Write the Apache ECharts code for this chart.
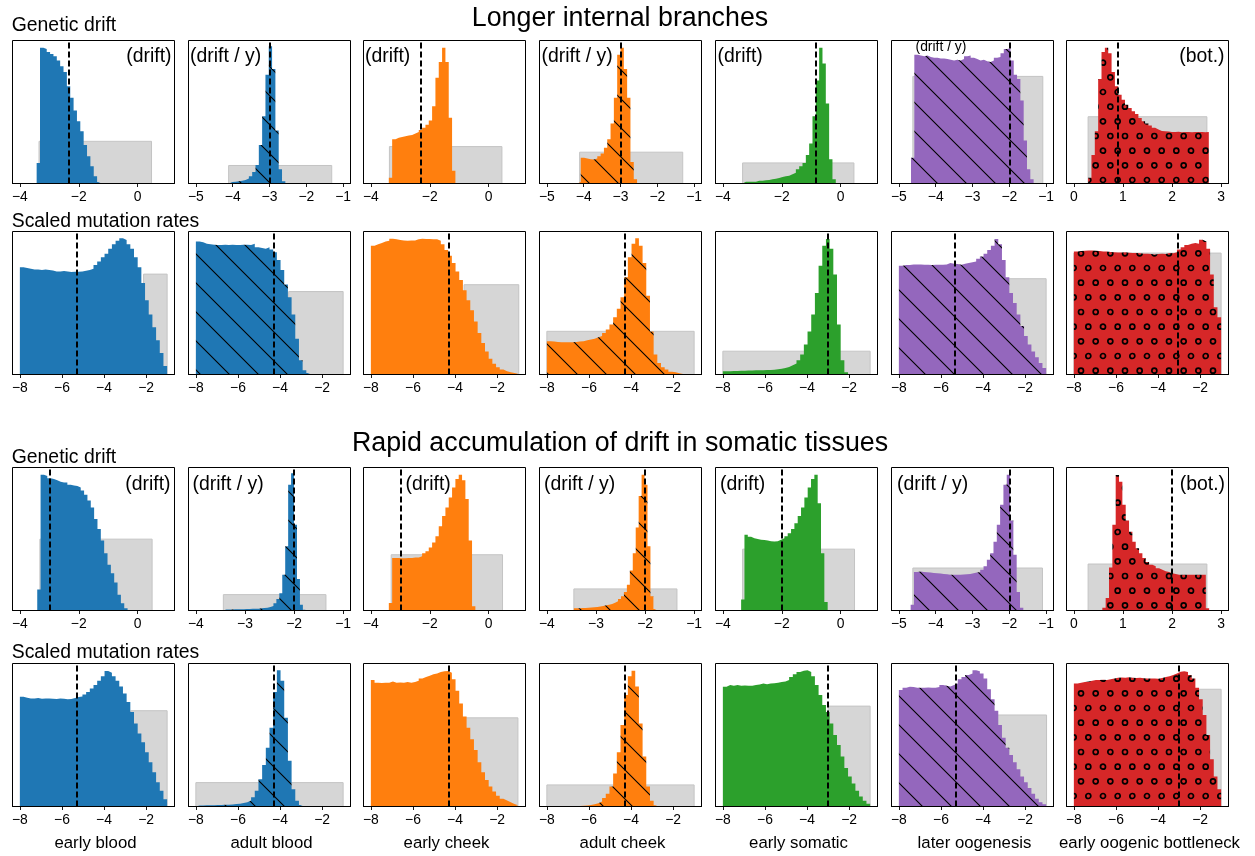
<!DOCTYPE html>
<html><head><meta charset="utf-8">
<script src="https://cdn.jsdelivr.net/npm/echarts@6/dist/echarts.min.js"></script>
<style>html,body{margin:0;padding:0;background:#fff}#c{width:1255px;height:856px}</style>
</head><body><div id="c"></div><script>
// ---------------- DATA ----------------
const tissues = ['early blood','adult blood','early cheek','adult cheek','early somatic','later oogenesis','early oogenic bottleneck'];
const sectionTitles = ['Longer internal branches','Rapid accumulation of drift in somatic tissues'];
const rowLabels = ['Genetic drift','Scaled mutation rates','Genetic drift','Scaled mutation rates'];
const tags1 = ['(drift)','(drift / y)','(drift)','(drift / y)','(drift)','(drift / y)','(bot.)'];
const tags3 = ['(drift)','(drift / y)','(drift)','(drift / y)','(drift)','(drift / y)','(bot.)'];

// tick values
const ticksA = [-4,-2,0];
const ticksB = [-5,-4,-3,-2,-1];
const ticksC = [-4,-3,-2,-1];
const ticksT = [0,1,2,3];
const ticksR = [-8,-6,-4,-2];

// histogram bin starts / widths per row
const binStart1 = [-3.43,-4.10,-3.39,-4.17,-3.33,-4.67,0.29];
const binStep1  = [0.114,0.09,0.113,0.09,0.113,0.09,0.0683];
const binStart2 = [-8,-8,-8,-8,-8,-8,-8];
const binStep2  = [0.175,0.175,0.175,0.175,0.175,0.175,0.175];
const binStart3 = [-3.41,-3.44,-3.39,-3.45,-3.38,-4.68,0.58];
const binStep3  = [0.1136,0.06,0.113,0.06,0.113,0.09,0.068];
const binStart4 = [-8,-8,-8,-8,-8,-8,-8];
const binStep4  = [0.175,0.175,0.175,0.175,0.175,0.175,0.175];

// prior (grey) boxes: [from, to, height]
const prior1 = [[-3.35,0.47,29.5],[-4.11,-1.31,12.6],[-3.37,0.45,25.8],[-4.11,-1.31,21.9],[-3.33,0.45,14.4],[-4.62,-1.09,74.9],[0.29,2.71,46.7]];
const prior2 = [[-2.12,-1,70.2],[-3.59,-1,58],[-3.57,-0.97,62.8],[-8,-1,30.2],[-8,-1,16.3],[-3.6,-1,67],[-8,-1,84.9]];
const prior3 = [[-3.32,0.49,49.9],[-3.44,-1.35,11.1],[-3.31,0.47,39],[-3.45,-1.35,15.1],[-3.33,0.47,42.9],[-4.62,-1.1,29.7],[0.29,2.71,32.5]];
const prior4 = [[-2.73,-1,67],[-8,-1,16.7],[-3.64,-1.01,62],[-8,-1,15.1],[-3.0,-1,70.2],[-3.6,-0.98,64],[-3.6,-1,82]];

// dashed reference lines
const dash1 = [-2.35,-3.0,-2.30,-3.0,-0.857,-2.0,0.895];
const dash2 = [-5.29,-4.31,-4.29,-4.29,-3.0,-5.33,-3.04];
const dash3 = [-3.0,-2.0,-3.0,-2.0,-2.0,-2.0,2.0];
const dash4 = [-5.29,-4.3,-4.32,-4.32,-3.0,-5.29,-3.0];

// histogram heights (% of panel height)
const h11 = [14.4,95,94,92,90.5,89,86,82,78,68,60,51,43.5,36.5,27,19,12,5,1];
const h12 = [1,1.2,1.5,2,2.5,3.5,5,8,13,27,47,76,96,80,37,10,1.5];
const h13 = [4,31,32,32.5,33,33.5,34,35,36,37.5,39,41,44,54,74,85,95,85,46,9];
const h14 = [1,18,17.5,17,16.7,17.5,19,21,25,31,42,60,90,95,80,60,15,3];
const h15 = [1.2,1.2,1.2,1.2,2,2,2.3,2.5,3,3.3,3.8,4.5,5,5.5,6.5,7.5,10,12,14.4,20,28,47,72,95,84,56,17,3];
const h16 = [18,90,89.5,89,89.5,88.5,88,88,87.5,87.5,87,86.5,86,86.5,86,87,89,89.5,88,87,86,86.5,85.5,85,86,88,88.5,91,94,94.5,86,76,73,58,30,10,3];
const h17 = [4,20,36.5,73,92,95,91,78,68,62,58.6,55,52.8,50.5,48.6,45.8,43.5,42,40.5,39,37.7,36.8,36.5,36.3,36,36,36.2,35.8,36,36,35.8,36,36,36,35.8,36];

const h21 = [75,74.5,74,73.5,73.5,73,73.5,73,72.8,72,72,72.3,72,71.6,71.8,71.8,72,72.5,73,74,76.5,79,82,84.5,88,91,93.5,95.3,94,91,88,82,75,64,52,42,33,24,15,6];
const h22 = [93,92.5,91.5,91,90.8,90.5,90.5,90.8,90.5,90.8,90.5,90.5,90.8,90.7,90.5,91.5,89,88.4,88,89,87.5,85.5,80,73,63,54,42,25,10,3,1];
const h23 = [90,91,92,93,93.5,95,94.5,94,93.7,93.5,93.7,93.7,94.5,95,94.7,94.7,94.5,94.5,93.5,91,87,83,78,72,66,59,52,45,37,29,22,16,11,7.5,5,3.5,2.3,1.5,1,0.5];
const h24 = [23.3,23,22.8,22.6,22.6,22.5,22.6,22.8,23,23.3,24,24.4,25,26,27,29,31.5,35,40,46,54,68,82,91.5,95.3,90,78,55,30,14,8,5,3.5,2,1.5,0.8,0.3];
const h25 = [2.2,2.3,2.4,2.5,2.6,2.7,2.8,2.8,2.9,3,3,3.1,3.2,3.4,3.6,4,4.5,5.3,6.5,7.7,10,14,21,30,42,57,76,90,94.7,88,70,35,10,1.5];
const h26 = [76,76.5,76.5,77,77,77,76.8,76.7,76.5,76.7,76.8,76.7,77,78,77.5,77.2,76.8,77.5,78,78.5,79,81,82.5,84.5,87,90,94.7,91,80,68,57,50,42,34,27,21,16,12,8,4.5];
const h27 = [86,86.3,86.5,86.7,86.7,86.5,86.3,86,86,85.7,85.5,85.3,85.3,85.5,85.2,85,85,84.8,84.5,84.5,84.2,84,84.2,84.5,84.3,85,84.8,85.5,87.5,89,90.5,91.5,92,91.5,94.2,93,88,70,47,40];

const h31 = [14.6,95,94,92.5,92,91,90,89.5,89.5,88,87.5,87,86,84,81,77,72,64,57,49,40,32,26,19.5,11,5,1.5];
const h32 = [0.7,0.7,0.7,0.8,0.8,0.9,0.9,1,1,1.2,1.2,1.3,1.5,1.7,2,2.5,3.2,5,8,12,25,45,88,96,60,22,4,0.5];
const h33 = [5.3,36.7,36.7,36.5,36.5,36.7,36.7,37,37,38,40,41.5,44,47.5,52,59,66,72,79,86,92,95,91,78,49,3];
const h34 = [1.5,1.6,1.7,1.8,1.9,2.1,2.3,2.5,2.8,3.2,3.6,4,4.6,5.5,6.5,8,10,13,18,28,40,58,80,95,88,45,10,1];
const h35 = [7.7,53,51.5,50.6,50,49.5,49.3,49,48.5,48.3,48.5,49.5,50.6,52,54,57,61,66,72,79,86,92,95,75,40,6];
const h36 = [4,27,27.2,27,26.8,26.5,26.2,26,25.8,25.5,25.3,25,25,25,25,25.2,25.3,25.5,26,26.5,27,28.5,31,35.5,40,48,60,74,88,95,63,39,13,2];
const h37 = [1.9,8.8,30,60,94.7,90,74,63,55,48,43.5,40,36.7,34,32,31,29.5,28.5,27.5,27,26,25.5,25,25,25,25,25,25,25,25,25,1.5];

const h41 = [76.7,76,75.5,75.5,75.8,75.3,75.5,75.5,75.3,75.2,75.5,75.3,75,75.2,75.8,76.5,77,78.4,80,82.5,85,88,91,94.7,93.5,91,88,84,79,73,66,58,51,45,38,31,24,17,11,5];
const h42 = [0.7,0.7,0.8,0.8,0.9,1,1.1,1.2,1.3,1.4,1.7,2,2.4,3,4.2,6.5,11,19,29,41,55,80,95.3,88,62,32,12,4,1];
const h43 = [88.4,86.5,86.3,86.5,86.5,87.5,86.5,86.8,86.5,87,86.5,87,88,89.5,90.5,91.5,92.5,93,94,94.5,94.7,93.5,89,81,72,63,55,47,39.5,31,24,18.6,14,10.5,7.5,5.5,4.2,3,1.8,0.9];
const h44 = [0.2,0.2,0.2,0.2,0.2,0.2,0.2,0.2,0.4,0.5,0.7,1,1.5,2.2,3.5,6,9,14,23,38,57,78,91,95,84,58,35,14,4,0.8];
const h45 = [83.7,85,84.5,85,84.5,84.7,84.5,84.5,85,85.3,86,85.5,86,86.2,86.5,87,87.5,88.5,90.5,92.5,94,95,95.3,94,91,85,78,71,66,58,50,43,35,27,21,16,11,7,4,2];
const h46 = [81.4,83,83.7,83.5,83,83,83,83.2,83,83,83.5,84.9,84.5,84,85,86,89,90.5,92,93,95.3,94.5,93,89.5,82,75,67,57,48,41,36,31,26,21,17,13,9,5.5,3,1.5];
const h47 = [86,86.5,87,87.5,88,88.4,88.5,88.7,88.5,89,89.5,90,90.2,90,90.3,90,89.8,90,89.7,89.5,89.5,89.5,89.3,89.8,90.5,91,92,93,94.2,94.5,94,92,89.5,83,75,64,50,33,21,12];

// ---------------- STYLE / LAYOUT ----------------
const COLORS = ['#1f77b4','#1f77b4','#ff7f0e','#ff7f0e','#2ca02c','#9467bd','#d62728'];
const PATTERNS = ['none','hatch','none','hatch','none','hatch','circle'];
const LEFTS = [12.5,188.5,363.5,539.5,715.5,891.5,1066.5];
const TOPS = [40.5,231.5,467.5,663.5];
const GW = 162, GH = 143;
const FONT = '"Liberation Sans", Arial, Helvetica, sans-serif';
const AXES = {
  A:{min:-4.25,max:1.25,ticks:ticksA},
  B:{min:-5.2,max:-0.8,ticks:ticksB},
  C:{min:-4.15,max:-0.85,ticks:ticksC},
  T:{min:-0.15,max:3.15,ticks:ticksT},
  R:{min:-8.35,max:-0.65,ticks:ticksR}
};
const AXIS_KIND = [
  ['A','B','A','B','A','B','T'],
  ['R','R','R','R','R','R','R'],
  ['A','C','A','C','A','B','T'],
  ['R','R','R','R','R','R','R']
];
// tag placement: [align, dx from edge, dy from top, font size]
const TAG_LAYOUT1 = [['right',-3,16.1,19.4],['left',1.5,16.1,19.4],['left',1.5,16.1,19.4],['left',2,16.1,19.4],['left',2,16.1,19.4],['left',24,6.6,13.9],['right',-4,16.1,19.4]];
const TAG_LAYOUT3 = [['right',-4,17.4,19.4],['left',4,17.4,19.4],['left',42,17.4,19.4],['left',4.5,17.4,19.4],['left',4.5,17.4,19.4],['left',5.5,17.4,19.4],['right',-3.5,17.4,19.4]];

function hatchCanvas(color){
  const s = 29;
  const c = document.createElement('canvas'); c.width = s; c.height = s;
  const g = c.getContext('2d');
  g.fillStyle = color; g.fillRect(0,0,s,s);
  g.strokeStyle = '#000'; g.lineWidth = 1.1;
  g.beginPath();
  for (const o of [-s,0,s]) { g.moveTo(o-2,-2); g.lineTo(o+s+2,s+2); }
  g.stroke();
  return c;
}
function circleCanvas(color){
  const w = 44, h = 88, d = 44/3;
  const c = document.createElement('canvas'); c.width = w; c.height = h;
  const g = c.getContext('2d');
  g.fillStyle = color; g.fillRect(0,0,w,h);
  g.strokeStyle = '#000'; g.lineWidth = 1.7;
  for (let j=-1;j<=7;j++){
    const off = (((j%2)+2)%2) ? d/2 : 0;
    for (let i=-1;i<=4;i++){
      g.beginPath(); g.arc(i*d+off+3, j*d+4, 2.5, 0, Math.PI*2); g.stroke();
    }
  }
  return c;
}
function fillFor(c){
  if (PATTERNS[c]==='hatch') return {image: hatchCanvas(COLORS[c]), repeat:'repeat'};
  if (PATTERNS[c]==='circle') return {image: circleCanvas(COLORS[c]), repeat:'repeat'};
  return COLORS[c];
}
function histPoints(start, step, hs){
  const pts = [[start,0]];
  hs.forEach((h,k)=>pts.push([start+k*step, h]));
  pts.push([start+hs.length*step, 0]);
  return pts;
}
const minus = v => v<0 ? '\u2212'+Math.abs(v) : String(v);
function txt(x,y,text,size,align){
  return {type:'text', x:x, y:y, silent:true, z:100,
    style:{text:text, font: size+'px '+FONT, fill:'#000', align:align, verticalAlign:'middle'}};
}

const HEIGHTS = [[h11,h12,h13,h14,h15,h16,h17],[h21,h22,h23,h24,h25,h26,h27],[h31,h32,h33,h34,h35,h36,h37],[h41,h42,h43,h44,h45,h46,h47]];
const STARTS = [binStart1,binStart2,binStart3,binStart4];
const STEPS = [binStep1,binStep2,binStep3,binStep4];
const PRIORS = [prior1,prior2,prior3,prior4];
const DASHES = [dash1,dash2,dash3,dash4];

const option = {animation:false, grid:[], xAxis:[], yAxis:[], series:[], graphic:[]};
for (let r=0;r<4;r++){
  for (let c=0;c<7;c++){
    const idx = r*7+c;
    const ax = AXES[AXIS_KIND[r][c]];
    option.grid.push({left:LEFTS[c], top:TOPS[r], width:GW, height:GH, show:true, borderColor:'#000', borderWidth:1, backgroundColor:'rgba(0,0,0,0)'});
    option.xAxis.push({type:'value', gridIndex:idx, min:ax.min, max:ax.max, z:10,
      axisLine:{show:true, onZero:false, lineStyle:{color:'#000', width:1}},
      axisTick:{show:true, customValues:ax.ticks, length:3.5, lineStyle:{color:'#000', width:0.9}},
      axisLabel:{show:true, customValues:ax.ticks, margin:6.5, color:'#000', fontSize:13.9, fontFamily:FONT, formatter:minus},
      splitLine:{show:false}});
    option.yAxis.push({type:'value', gridIndex:idx, min:0, max:100, show:false, splitLine:{show:false}});
    option.series.push({type:'custom', xAxisIndex:idx, yAxisIndex:idx, silent:true, z:1,
      data:[PRIORS[r][c]], encode:{x:[0,1], y:2},
      renderItem:function(params, api){
        const p0 = api.coord([api.value(0), 0]);
        const p1 = api.coord([api.value(1), api.value(2)]);
        return {type:'rect', shape:{x:p0[0], y:p1[1], width:p1[0]-p0[0], height:p0[1]-p1[1]},
          style:{fill:'#d6d6d6', stroke:'#c4c4c4', lineWidth:1}};
      }});
    option.series.push({type:'line', xAxisIndex:idx, yAxisIndex:idx, silent:true, z:2,
      step:'end', showSymbol:false, symbol:'none',
      lineStyle:{opacity:0, width:1},
      areaStyle:{color:fillFor(c), opacity:1},
      data:histPoints(STARTS[r][c], STEPS[r][c], HEIGHTS[r][c]),
      markLine:{silent:true, symbol:['none','none'], label:{show:false}, animation:false,
        lineStyle:{color:'#000', type:[6,3], width:2},
        emphasis:{disabled:true},
        data:[{xAxis:DASHES[r][c]}]}});
  }
}
// titles and labels
option.graphic.push(txt(620,19.0,sectionTitles[0],26.8,'center'));
option.graphic.push(txt(620,443.4,sectionTitles[1],26.8,'center'));
const rowLabelY = [26.0,221.6,457.6,652.3];
rowLabels.forEach((t,r)=>option.graphic.push(txt(11.7,rowLabelY[r],t,19.4,'left')));
tissues.forEach((t,c)=>option.graphic.push(txt(LEFTS[c]+GW/2+2,843.1,t,16.8,'center')));
[[0,tags1,TAG_LAYOUT1],[2,tags3,TAG_LAYOUT3]].forEach(([r,tags,lay])=>{
  tags.forEach((t,c)=>{
    const [al,dx,dy,fs] = lay[c];
    const x = al==='right' ? LEFTS[c]+GW+dx : LEFTS[c]+dx;
    option.graphic.push(txt(x, TOPS[r]+dy, t, fs, al));
  });
});

const chart = echarts.init(document.getElementById('c'), null, {renderer:'canvas'});
chart.setOption(option);
</script></body></html>
